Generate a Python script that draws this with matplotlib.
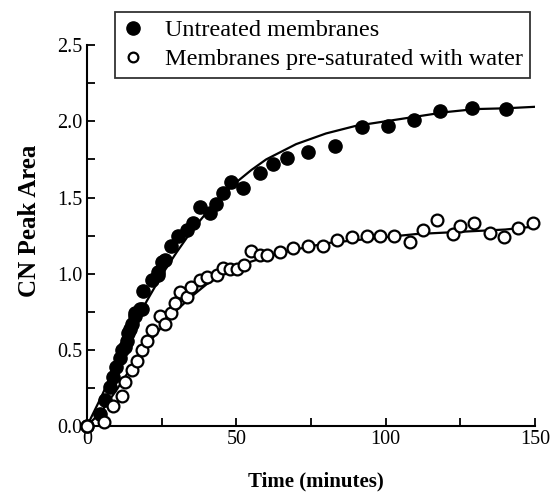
import matplotlib
matplotlib.use("Agg")
import matplotlib.pyplot as plt
from matplotlib.ticker import MultipleLocator, FormatStrFormatter

# Data
untreated_t = [0, 4.4, 6.0, 7.7, 8.8, 9.9, 11.0, 11.6, 12.7, 13.3, 13.8, 14.4, 15.0, 16.0, 16.1,
               17.7, 18.3, 18.8, 21.7, 23.8, 23.9, 25.0, 26.1, 28.3, 30.6, 33.4, 35.6, 37.8,
               41.2, 43.2, 45.6, 48.1, 52.3, 57.9, 62.2, 66.8, 74.1, 83.0, 92.0, 100.9, 109.3,
               118.0, 129.0, 140.3]
untreated_y = [0, 0.08, 0.17, 0.26, 0.32, 0.39, 0.45, 0.50, 0.52, 0.56, 0.61, 0.64, 0.67, 0.72, 0.74,
               0.77, 0.77, 0.89, 0.96, 1.01, 0.99, 1.08, 1.09, 1.18, 1.25, 1.29, 1.33, 1.44,
               1.40, 1.46, 1.53, 1.60, 1.56, 1.66, 1.72, 1.76, 1.80, 1.84, 1.96, 1.97, 2.01,
               2.07, 2.09, 2.08]

saturated_t = [0, 5.7, 8.8, 11.6, 12.7, 15.0, 16.6, 18.3, 20.0, 21.7, 24.4, 26.1, 28.3, 29.5,
               31.1, 33.4, 35.0, 37.8, 40.1, 43.4, 45.6, 48.0, 50.1, 52.6, 54.8, 57.9, 60.2,
               64.6, 69.1, 74.1, 79.1, 83.6, 88.6, 93.6, 98.1, 102.6, 108.1, 112.6, 117.3,
               122.6, 124.9, 129.6, 134.9, 139.6, 144.4, 149.4]
saturated_y = [0, 0.03, 0.13, 0.20, 0.29, 0.37, 0.43, 0.50, 0.56, 0.63, 0.72, 0.67, 0.74, 0.81,
               0.88, 0.85, 0.91, 0.96, 0.98, 0.99, 1.04, 1.03, 1.03, 1.06, 1.15, 1.12, 1.12,
               1.14, 1.17, 1.18, 1.18, 1.22, 1.24, 1.25, 1.25, 1.25, 1.21, 1.29, 1.35,
               1.26, 1.31, 1.33, 1.27, 1.24, 1.30, 1.33]

fit_t = [0, 5, 10, 15, 20, 25, 30, 35, 40, 45, 50, 55, 60, 70, 80, 90, 100, 110, 120, 130, 140, 150]
fit_untreated = [0, 0.20, 0.42, 0.63, 0.82, 0.99, 1.14, 1.28, 1.40, 1.51, 1.60, 1.68, 1.75, 1.85,
                 1.92, 1.97, 2.00, 2.03, 2.06, 2.08, 2.085, 2.095]
fit_saturated = [0, 0.10, 0.24, 0.39, 0.53, 0.65, 0.76, 0.85, 0.93, 0.99, 1.04, 1.08, 1.11, 1.16,
                 1.20, 1.22, 1.24, 1.26, 1.27, 1.28, 1.29, 1.31]

labels = ["Untreated membranes", "Membranes pre-saturated with water"]

plt.rcParams['font.family'] = ['Liberation Serif', 'DejaVu Serif']

fig = plt.figure(figsize=(5.5, 4.95), dpi=100)
ax = fig.add_axes([0.158, 0.139, 0.815, 0.770])

ax.plot(fit_t, fit_untreated, color='black', lw=1.6, zorder=2)
ax.plot(fit_t, fit_saturated, color='black', lw=1.6, zorder=2)
h1, = ax.plot(untreated_t, untreated_y, 'o', color='black', ms=9.5, zorder=3, label=labels[0],
              clip_on=False)
h2, = ax.plot(saturated_t, saturated_y, 'o', mfc='white', mec='black', mew=1.6, ms=8.5,
              zorder=4, label=labels[1], clip_on=False)

ax.set_xlim(0, 150)
ax.set_ylim(0, 2.5)
ax.xaxis.set_major_locator(MultipleLocator(50))
ax.xaxis.set_minor_locator(MultipleLocator(25))
ax.yaxis.set_major_locator(MultipleLocator(0.5))
ax.yaxis.set_minor_locator(MultipleLocator(0.25))
ax.yaxis.set_major_formatter(FormatStrFormatter('%.1f'))

for s in ['top', 'right']:
    ax.spines[s].set_visible(False)
for s in ['left', 'bottom']:
    ax.spines[s].set_linewidth(1.5)

ax.tick_params(which='both', direction='in', width=1.3, labelsize=14.5, pad=3)
ax.tick_params(which='major', length=6)
ax.tick_params(which='minor', length=6)

ax.set_xlabel("Time (minutes)", fontsize=15, fontweight='bold')
ax.set_ylabel("CN Peak Area", fontsize=18, fontweight='bold')
ax.xaxis.set_label_coords(0.511, -0.12)
ax.yaxis.set_label_coords(-0.102, 0.54)

leg = fig.legend(handles=[h1, h2], loc='upper left', bbox_to_anchor=(0.209, 0.976),
                 fontsize=17.5, frameon=True, fancybox=False, edgecolor='black',
                 handlelength=0.9, handletextpad=0.85, borderpad=0.3, labelspacing=0.3,
                 borderaxespad=0)
leg.get_frame().set_linewidth(1.3)
leg.legend_handles[1].set_markersize(7)

fig.savefig("out.png", dpi=100)
